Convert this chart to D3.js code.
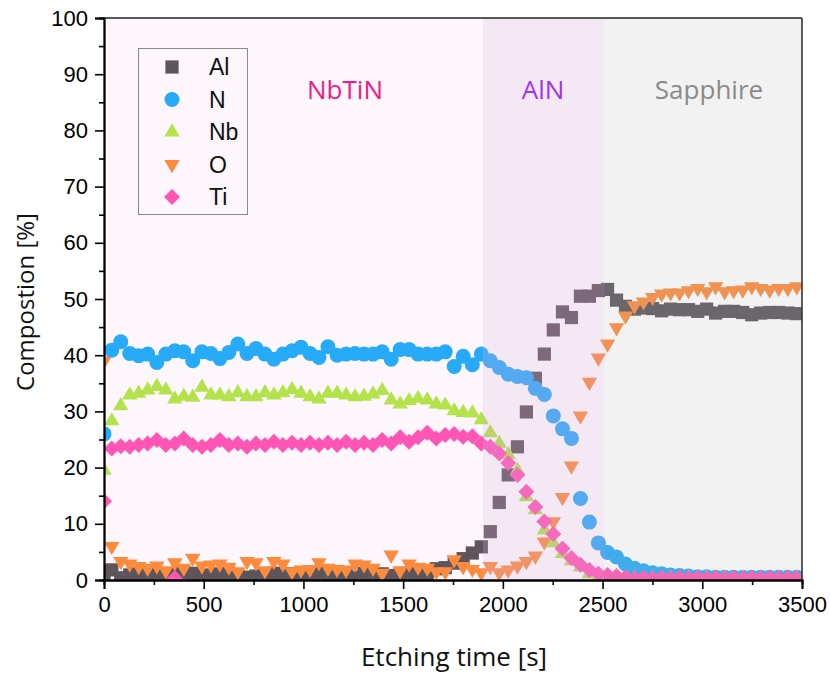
<!DOCTYPE html>
<html><head><meta charset="utf-8">
<script src="https://cdn.jsdelivr.net/npm/d3@7"></script>
<style>body{margin:0;background:#fff}svg{display:block}</style>
</head><body><svg id="c" width="830" height="675"></svg>
<script>
// ---- data ----
const times=[0,39,84,129,174,219,265,310,355,400,445,491,536,581,626,671,717,762,807,852,897,943,988,1033,1078,1123,1169,1214,1259,1304,1349,1395,1440,1485,1530,1575,1621,1666,1711,1756,1801,1847,1892,1937,1982,2027,2073,2118,2163,2208,2253,2299,2344,2389,2434,2479,2525,2570,2615,2660,2705,2751,2796,2841,2886,2931,2977,3022,3067,3112,3157,3203,3248,3293,3338,3383,3429,3474];
const alVals=[1.2,1.8,0.4,0.9,1.1,0.8,1.2,0.6,1.0,1.3,1.2,0.9,0.8,1.1,1.2,0.9,0.5,0.7,1.0,1.2,0.8,1.1,1.0,0.9,1.2,1.0,1.1,0.9,0.5,1.2,1.0,1.1,0.8,1.0,1.2,1.1,1.0,2.0,2.2,3.0,3.8,4.8,5.9,8.6,13.8,18.7,23.7,29.9,35.9,40.2,44.5,47.7,46.7,50.5,50.5,51.5,51.7,49.8,48.7,48.2,48.4,48.3,47.9,48.2,48.1,48.1,47.8,48.2,47.5,47.8,47.8,47.6,47.2,47.5,47.6,47.6,47.5,47.4];
const nVals=[26.0,40.9,42.4,40.3,39.9,40.2,38.7,40.2,40.8,40.6,39.0,40.6,40.3,39.4,40.5,42.0,40.3,41.2,40.2,39.3,40.2,40.8,41.4,40.3,39.6,41.5,40.0,40.2,40.3,40.2,40.2,40.6,39.3,41.0,41.0,40.2,40.2,40.2,40.6,38.0,39.8,38.3,40.2,39.0,37.8,36.6,36.2,36.0,34.1,33.0,29.2,26.9,25.2,14.5,10.3,6.6,4.9,4.1,2.85,2.1,1.65,1.3,1.1,0.9,0.8,0.7,0.6,0.6,0.5,0.5,0.5,0.5,0.5,0.5,0.5,0.5,0.5,0.5];
const nbVals=[19.5,28.3,31.0,32.9,33.2,33.8,34.4,33.8,32.2,32.7,32.5,34.3,32.9,32.9,32.6,33.3,32.6,32.6,33.3,32.9,33.3,33.9,33.2,32.6,32.2,33.2,33.2,32.9,32.6,32.7,33.1,33.7,32.0,31.3,31.9,32.3,32.0,31.3,31.1,30.1,29.8,29.7,28.5,26.2,24.3,22.3,19.5,14.8,12.5,8.9,6.6,4.7,3.4,2.3,1.1,0.6,0.4,0.3,0.3,0.3,0.3,0.3,0.3,0.3,0.3,0.3,0.3,0.3,0.3,0.3,0.3,0.3,0.3,0.3,0.3,0.3,0.3,0.3];
const oVals=[39.0,6.0,3.3,2.85,2.4,2.1,2.5,1.65,3.1,2.1,3.9,2.5,2.7,2.85,2.3,1.5,3.3,3.1,1.65,3.3,2.85,1.5,1.8,1.9,3.1,2.1,1.9,1.8,2.85,2.7,2.1,1.2,4.45,1.65,2.85,2.3,2.1,1.5,1.5,3.6,2.4,1.9,1.3,2.4,1.3,1.8,2.5,3.3,4.3,6.8,10.4,14.7,20.3,29.2,35.2,39.5,42.0,44.9,47.0,48.8,49.5,50.3,50.9,51.1,51.1,51.5,51.9,51.3,52.2,51.3,51.5,51.6,52.2,51.9,51.6,51.9,51.9,52.2];
const tiVals=[14.0,23.4,23.8,23.7,24.0,24.3,24.9,24.0,24.3,25.2,24.0,23.7,24.0,24.9,24.0,24.3,23.7,24.3,24.0,24.6,24.0,24.4,24.0,24.4,24.0,24.4,24.0,24.6,24.0,24.4,24.0,24.9,24.3,25.4,24.6,25.4,26.2,25.2,25.8,26.0,25.5,25.6,24.3,23.7,22.5,20.8,18.7,15.7,13.0,10.4,8.2,5.6,3.9,2.7,1.8,1.1,0.9,0.7,0.5,0.3,0.4,0.3,0.4,0.3,0.4,0.3,0.4,0.3,0.4,0.3,0.4,0.3,0.4,0.3,0.4,0.3,0.4,0.3];
const tiExtraTimes=[355];
const tiExtraVals=[0.3];
const seriesNames=["Al","N","Nb","O","Ti"];
const regionNames=["NbTiN","AlN","Sapphire"];
const regionStarts=[0,1900,2510];
const regionEnds=[1900,2510,3500];
const xTicks=[0,500,1000,1500,2000,2500,3000,3500];
const yTicks=[0,10,20,30,40,50,60,70,80,90,100];
const xMinor=[250,750,1250,1750,2250,2750,3250];
const yMinor=[5,15,25,35,45,55,65,75,85,95];

// ---- styles ----
const colors={Al:"#5c555c",N:"#27aaf8",Nb:"#b4e24a",O:"#fc8b3d",Ti:"#ff55b4"};
const shapes={
  Al:"M-6.6,-6.6h13.2v13.2h-13.2Z",
  N:"M-7.5,0a7.5,7.5 0 1,0 15,0a7.5,7.5 0 1,0 -15,0Z",
  Nb:"M0,-8.8L7.7,4.4L-7.7,4.4Z",
  O:"M0,8.8L7.7,-4.4L-7.7,-4.4Z",
  Ti:"M0,-8L8,0L0,8L-8,0Z"
};
const regionFill=["#fdf7fd","rgb(217,167,217)","rgb(181,181,181)"];
const regionOpacity=[1,0.26,0.175];
const regionText=["#ee1a88","#a035ee","#8a8a8a"];
const regionTextX=[345,543,709];

const svg=d3.select("#c");
const x=d3.scaleLinear().domain([0,3500]).range([104,802]);
const y=d3.scaleLinear().domain([0,100]).range([580,18]);

svg.append("defs").append("clipPath").attr("id","clip")
  .append("rect").attr("x",104).attr("y",18).attr("width",698).attr("height",562);

const plot=svg.append("g").attr("clip-path","url(#clip)");
plot.append("rect").attr("x",x(regionStarts[0])).attr("y",y(100))
  .attr("width",x(regionEnds[0])-x(regionStarts[0])).attr("height",y(0)-y(100))
  .attr("fill",regionFill[0]);

const valsBy={Al:alVals,N:nVals,Nb:nbVals,O:oVals,Ti:tiVals};
const order=["Al","O","N","Nb","Ti"];
order.forEach(name=>{
  const pts=times.map((t,i)=>({t,v:valsBy[name][i]}));
  if(name==="Ti") tiExtraTimes.forEach((t,i)=>pts.push({t,v:tiExtraVals[i]}));
  plot.append("g").selectAll("path").data(pts).join("path")
    .attr("d",shapes[name])
    .attr("transform",d=>`translate(${x(d.t)},${y(d.v)})`)
    .attr("fill",colors[name]);
});
for(let i=1;i<3;i++){
  plot.append("rect").attr("x",x(regionStarts[i])).attr("y",y(100))
    .attr("width",x(regionEnds[i])-x(regionStarts[i])).attr("height",y(0)-y(100))
    .attr("fill",regionFill[i]).attr("fill-opacity",regionOpacity[i]);
}
regionNames.forEach((n,i)=>{
  svg.append("text").attr("x",regionTextX[i]).attr("y",99)
    .attr("text-anchor","middle").attr("fill",regionText[i])
    .style("font-family","'Open Sans',sans-serif").style("font-size","26px").text(n);
});

svg.append("line").attr("x1",104).attr("x2",802).attr("y1",18).attr("y2",18).attr("stroke","#222").attr("stroke-width",1.6);
svg.append("line").attr("x1",802).attr("x2",802).attr("y1",18).attr("y2",580).attr("stroke","#333").attr("stroke-width",1.6);

const tickFont="'Liberation Sans',Arial,sans-serif";
const ax=svg.append("g").attr("transform","translate(0,580)")
  .call(d3.axisBottom(x).tickValues(xTicks).tickSize(9).tickPadding(7).tickFormat(d3.format("d")));
const axm=svg.append("g").attr("transform","translate(0,580)")
  .call(d3.axisBottom(x).tickValues(xMinor).tickSize(5).tickFormat(""));
const ay=svg.append("g").attr("transform","translate(104,0)")
  .call(d3.axisLeft(y).tickValues(yTicks).tickSize(9).tickPadding(7).tickFormat(d3.format("d")));
const aym=svg.append("g").attr("transform","translate(104,0)")
  .call(d3.axisLeft(y).tickValues(yMinor).tickSize(5).tickFormat(""));
[ax,axm,ay,aym].forEach(g=>{
  g.selectAll("path.domain").attr("stroke","#000").attr("stroke-width",1.8);
  g.selectAll(".tick line").attr("stroke","#000").attr("stroke-width",1.6);
  g.selectAll("text").attr("fill","#000").style("font-family",tickFont).style("font-size","22px");
});

svg.append("text").attr("x",454).attr("y",666).attr("text-anchor","middle")
  .style("font-family","'Open Sans',sans-serif").style("font-size","26px").attr("fill","#111").text("Etching time [s]");
svg.append("text").attr("transform","translate(34,302) rotate(-90)").attr("text-anchor","middle")
  .style("font-family","'Open Sans',sans-serif").style("font-size","24px").attr("fill","#111").text("Compostion [%]");

const lg=svg.append("g");
lg.append("rect").attr("x",138.5).attr("y",48.5).attr("width",109).attr("height",166)
  .attr("fill","none").attr("stroke","#8a8a8a").attr("stroke-width",1);
seriesNames.forEach((n,i)=>{
  const yy=67+i*32.5;
  lg.append("path").attr("d",shapes[n]).attr("transform",`translate(172,${yy})`).attr("fill",colors[n]);
  lg.append("text").attr("x",209).attr("y",yy+8).style("font-family",tickFont).style("font-size","23px").attr("fill","#111").text(n);
});
</script></body></html>
